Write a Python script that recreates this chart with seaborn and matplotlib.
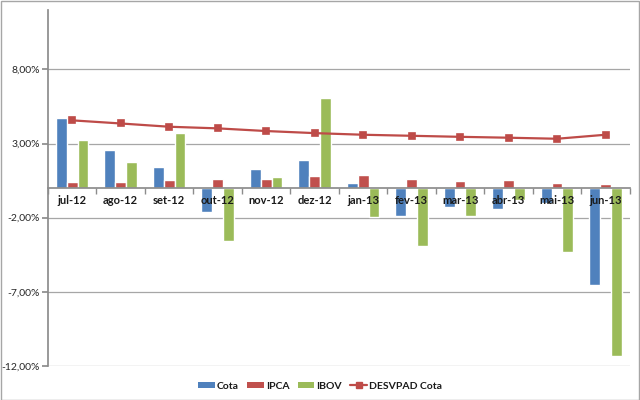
import matplotlib
matplotlib.use("Agg")
import matplotlib.pyplot as plt
import seaborn as sns
import pandas as pd
from matplotlib.ticker import FixedLocator, FuncFormatter
from matplotlib.patches import Patch, Rectangle
from matplotlib.lines import Line2D

months = ["jul-12", "ago-12", "set-12", "out-12", "nov-12", "dez-12",
          "jan-13", "fev-13", "mar-13", "abr-13", "mai-13", "jun-13"]
cota = [4.74, 2.58, 1.41, -1.65, 1.30, 1.90, 0.35, -1.92, -1.25, -1.40, -1.02, -6.53]
ipca = [0.43, 0.41, 0.57, 0.59, 0.60, 0.79, 0.86, 0.60, 0.47, 0.55, 0.37, 0.26]
ibov = [3.21, 1.72, 3.70, -3.56, 0.71, 6.05, -1.95, -3.91, -1.87, -0.78, -4.30, -11.31]
desvpad = [4.56, 4.35, 4.13, 4.02, 3.84, 3.70, 3.59, 3.52, 3.45, 3.39, 3.32, 3.59]
series = ["Cota", "IPCA", "IBOV"]
yticks = [-12, -7, -2, 3, 8]

colors = {"Cota": "#4F81BD", "IPCA": "#C0504D", "IBOV": "#9BBB59"}
line_color = "#BE4B48"

sns.set_theme(style="white")
plt.rcParams['font.family'] = ['Lato', 'DejaVu Sans']

df = pd.DataFrame({
    "Mes": months * 3,
    "Serie": [s for s in series for _ in months],
    "Valor": cota + ipca + ibov,
})

fig = plt.figure(figsize=(6.4, 4), dpi=100)
ax = fig.add_axes([0.075, 0.085, 0.909, 0.89])

sns.barplot(data=df, x="Mes", y="Valor", hue="Serie", hue_order=series,
            palette=colors, width=0.67, saturation=1, ax=ax, legend=False,
            errorbar=None)
sns.pointplot(x=months, y=desvpad, color=line_color, markers="s",
              markersize=5, linewidth=1.6, ax=ax)

ax.set_ylim(-12, 12)
ax.set_xlim(-0.5, 11.5)
ax.yaxis.set_major_locator(FixedLocator(yticks))
ax.yaxis.set_major_formatter(FuncFormatter(lambda v, p: f"{v:.2f}%".replace(".", ",")))
ax.grid(axis="y", color="#A6A6A6", linewidth=0.9)
ax.grid(axis="x", visible=False)
ax.set_xlabel("")
ax.set_ylabel("")

for s in ["top", "right"]:
    ax.spines[s].set_visible(False)
ax.spines["bottom"].set_position(("data", 0))
ax.spines["bottom"].set_color("#8C8C8C")
ax.spines["left"].set_color("#8C8C8C")
ax.spines["left"].set_bounds(-12, 12)

ax.xaxis.set_minor_locator(FixedLocator([i - 0.5 for i in range(13)]))
ax.tick_params(axis="x", which="major", length=0, pad=5, labelsize=8,
               labelcolor="#1A1A1A")
ax.tick_params(axis="x", which="minor", length=4, color="#8C8C8C", direction="out", bottom=True)
ax.tick_params(axis="y", length=4, color="#8C8C8C", direction="out", left=True,
               labelsize=7.5, labelcolor="#262626", pad=2)
for lab in ax.get_xticklabels():
    lab.set_fontweight("bold")

ax.xaxis.set_zorder(4)
ax.yaxis.set_zorder(0.5)

handles = [Patch(facecolor=colors[s], edgecolor="none") for s in series]
handles.append(Line2D([], [], color=line_color, marker="s", markersize=5, linewidth=1.6))
leg = fig.legend(handles, series + ["DESVPAD Cota"], loc="lower center",
                 bbox_to_anchor=(0.5, 0.0), ncol=4, frameon=False, fontsize=7.5,
                 handlelength=1.6, handleheight=0.45, handletextpad=0.2,
                 columnspacing=0.8)
for t in leg.get_texts():
    t.set_fontweight("bold")
    t.set_color("#1A1A1A")

fig.patches.append(Rectangle((0.001, 0.001), 0.997, 0.997, transform=fig.transFigure,
                             fill=False, edgecolor="#A6A6A6", linewidth=1))

fig.savefig("out.png", dpi=100)
